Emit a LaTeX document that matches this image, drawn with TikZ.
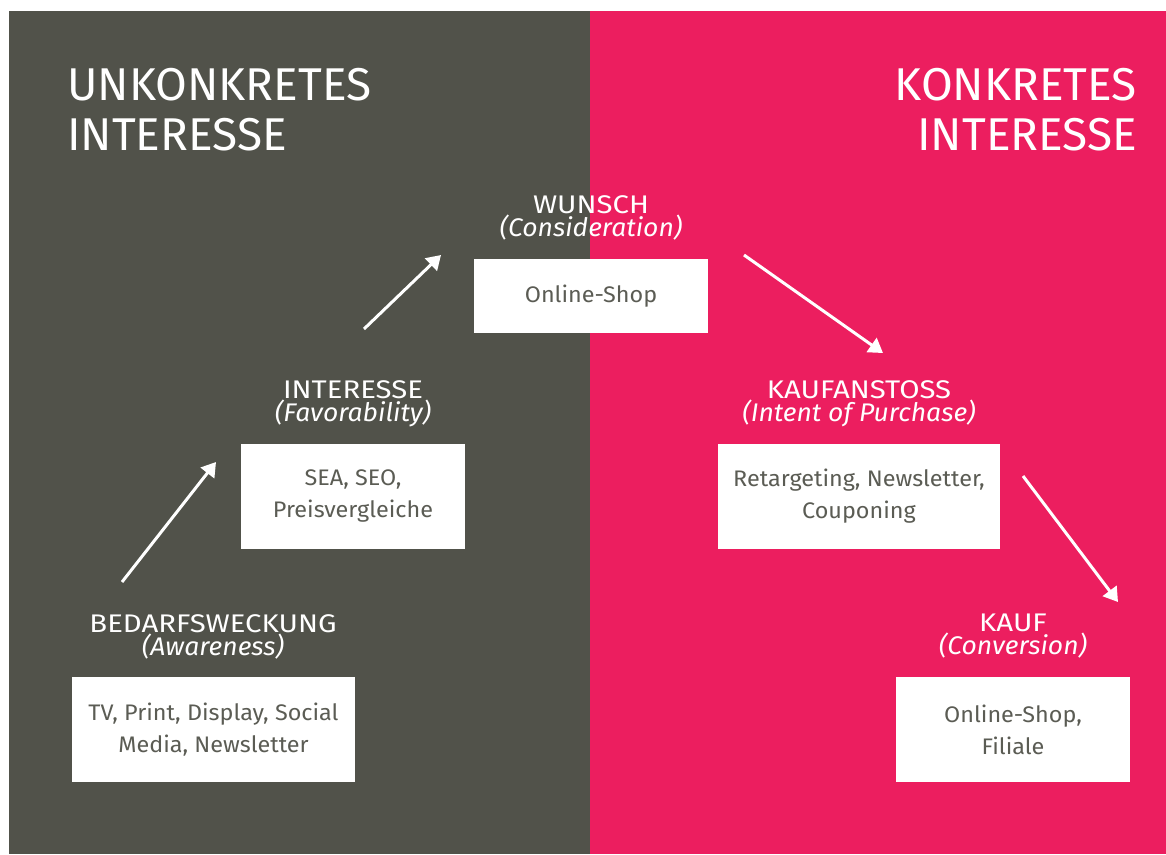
\documentclass[tikz,border=0pt]{standalone}
\usepackage{fontspec}
\setmainfont{Fira Sans}
\newfontfamily\stagefont[FakeStretch=1.15]{Fira Sans}
\newfontfamily\cuefont[FakeStretch=1.04]{Fira Sans}
\newfontfamily\channelfont[FakeStretch=1.04]{Fira Sans}
\newcommand{\cue}[1]{{\cuefont\itshape #1}}
\usetikzlibrary{arrows.meta}
\definecolor{Slate}{HTML}{51524A}
\definecolor{Magenta}{HTML}{EC1E5F}
\definecolor{BoxText}{HTML}{5B5C54}

\begin{document}
\begin{tikzpicture}[x=1pt,y=-1pt,
  title/.style={white,inner sep=0pt,font=\fontsize{46}{50}\selectfont},
  stage/.style={white,align=center,anchor=north,inner sep=0pt,font=\stagefont\fontsize{25.5}{23}\selectfont},
  channel/.style={fill=white,text=BoxText,align=center,inner sep=0pt,font=\channelfont\fontsize{22.5}{32}\selectfont},
  flow/.style={white,line width=3pt,-{Triangle[length=14pt,width=17pt]}}]
  \useasboundingbox (0,0) rectangle (1166,854);

  % Background halves
  \fill[Slate] (9,11) rectangle (590,854);
  \fill[Magenta] (590,11) rectangle (1166,854);

  % Titles
  \node[title,anchor=north west,align=left] (vague) at (67,68)
    {UNKONKRETES\\INTERESSE};
  \node[title,anchor=north east,align=right] (concrete) at (1137,68)
    {KONKRETES\\INTERESSE};

  % Stage 1: Awareness
  \node[stage] (aware) at (213,614) {BEDARFSWECKUNG\\\cue{(Awareness)}};
  \node[channel,minimum width=283,minimum height=105] (awarebox) at (213.5,729.5)
    {TV, Print, Display, Social\\Media, Newsletter};

  % Stage 2: Favorability
  \node[stage] (favor) at (353,380) {INTERESSE\\\cue{(Favorability)}};
  \node[channel,minimum width=224,minimum height=105] (favorbox) at (353,496.5)
    {SEA, SEO,\\Preisvergleiche};

  % Stage 3: Consideration
  \node[stage] (wish) at (591,195) {WUNSCH\\\cue{(Consideration)}};
  \node[channel,minimum width=234,minimum height=74] (wishbox) at (591,296)
    {Online-Shop};

  % Stage 4: Intent of purchase
  \node[stage] (intent) at (859,380) {KAUFANSTOSS\\\cue{(Intent of Purchase)}};
  \node[channel,minimum width=282,minimum height=105] (intentbox) at (859,496.5)
    {Retargeting, Newsletter,\\Couponing};

  % Stage 5: Conversion
  \node[stage] (buy) at (1013,614) {KAUF\\\cue{(Conversion)}};
  \node[channel,minimum width=234,minimum height=105] (buybox) at (1013,729.5)
    {Online-Shop,\\Filiale};

  % Arrows between stages
  \coordinate (f1a) at (122,582);
  \coordinate (f1b) at (216,462);
  \coordinate (f2a) at (364,329);
  \coordinate (f2b) at (441,255);
  \coordinate (f3a) at (744,255);
  \coordinate (f3b) at (883,353);
  \coordinate (f4a) at (1023,476);
  \coordinate (f4b) at (1118,602);
  \draw[flow] (f1a) -- (f1b);
  \draw[flow] (f2a) -- (f2b);
  \draw[flow] (f3a) -- (f3b);
  \draw[flow] (f4a) -- (f4b);
\end{tikzpicture}
\end{document}
